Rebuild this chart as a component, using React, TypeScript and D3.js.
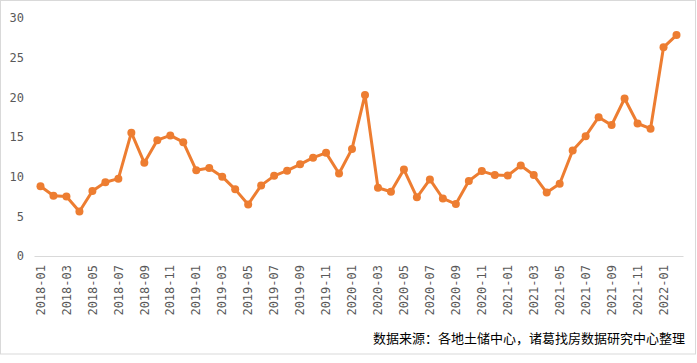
import React, { useRef, useEffect } from "react";
import * as d3 from "d3";

const months: string[] = [];
for (let y = 2018; y <= 2022; y++) {
  for (let m = 1; m <= 12; m++) {
    if (y === 2022 && m > 2) break;
    months.push(`${y}-${String(m).padStart(2, "0")}`);
  }
}

const values = [
  8.8, 7.6, 7.5, 5.6, 8.2, 9.3, 9.75, 15.55, 11.75, 14.6, 15.2, 14.35,
  10.8, 11.1, 10.0, 8.4, 6.5, 8.9, 10.1, 10.75, 11.55, 12.4, 13.0, 10.4,
  13.5, 20.3, 8.6, 8.1, 10.9, 7.4, 9.65, 7.25, 6.55, 9.45, 10.7, 10.2,
  10.15, 11.4, 10.2, 8.0, 9.1, 13.3, 15.1, 17.5, 16.5, 19.85, 16.7, 16.05,
  26.3, 27.85,
];

const yTicks = [0, 5, 10, 15, 20, 25, 30];
const sourceNote = "数据来源：各地土储中心，诸葛找房数据研究中心整理";

const App = () => {
  const chartRef = useRef<SVGSVGElement | null>(null);

  useEffect(() => {
    const width = 697;
    const height = 363;
    const margin = { top: 18, right: 14, bottom: 107, left: 34 };
    const innerW = 683 - margin.left;
    const innerH = 256 - margin.top;

    const svg = d3.select(chartRef.current);
    svg.selectAll("*").remove();
    svg.attr("width", width).attr("height", height);

    // cadre
    svg
      .append("rect")
      .attr("x", 0.5)
      .attr("y", 0.5)
      .attr("width", 695)
      .attr("height", 353.5)
      .attr("fill", "#fff")
      .attr("stroke", "#d9d9d9");

    const g = svg.append("g").attr("transform", `translate(${margin.left},${margin.top})`);

    const xScale = d3.scaleBand().domain(months).range([0, innerW]);
    const yScale = d3.scaleLinear().domain([0, 30]).range([innerH, 0]);
    const cx = (d: string) => (xScale(d) as number) + xScale.bandwidth() / 2;

    // axe y
    const yAxis = d3.axisLeft(yScale).tickValues(yTicks).tickSize(0).tickPadding(10);
    const yg = g.append("g").call(yAxis);
    yg.select(".domain").remove();
    yg.selectAll("text")
      .attr("fill", "#595959")
      .style("font-size", "12px")
      .style("font-family", "'DejaVu Sans Mono', monospace");

    // axe x
    const xAxis = d3
      .axisBottom(xScale)
      .tickValues(months.filter((_, i) => i % 2 === 0))
      .tickSize(0);
    const xg = g.append("g").attr("transform", `translate(0,${innerH})`).call(xAxis);
    xg.select(".domain").attr("stroke", "#d9d9d9");
    xg.selectAll("text")
      .attr("fill", "#595959")
      .style("font-size", "12px")
      .style("font-family", "'DejaVu Sans Mono', monospace")
      .style("text-anchor", "end")
      .attr("x", -9)
      .attr("y", 0)
      .attr("dy", "0.35em")
      .attr("transform", "rotate(-90)");

    // ligne
    const line = d3
      .line<number>()
      .x((_, i) => cx(months[i]))
      .y((d) => yScale(d));

    g.append("path")
      .datum(values)
      .attr("d", line)
      .attr("fill", "none")
      .attr("stroke", "#ED7D31")
      .attr("stroke-width", 3)
      .attr("stroke-linejoin", "round");

    g.selectAll("circle")
      .data(values)
      .enter()
      .append("circle")
      .attr("cx", (_, i) => cx(months[i]))
      .attr("cy", (d) => yScale(d))
      .attr("r", 4)
      .attr("fill", "#ED7D31");

    // source
    svg
      .append("text")
      .attr("x", 685)
      .attr("y", 343)
      .attr("text-anchor", "end")
      .attr("fill", "#000")
      .style("font-size", "13px")
      .style("font-family", "'Noto Sans CJK SC', sans-serif")
      .text(sourceNote);
  }, []);

  return <svg ref={chartRef} style={{ position: "absolute", left: 0, top: 0 }}></svg>;
};

export default App;
